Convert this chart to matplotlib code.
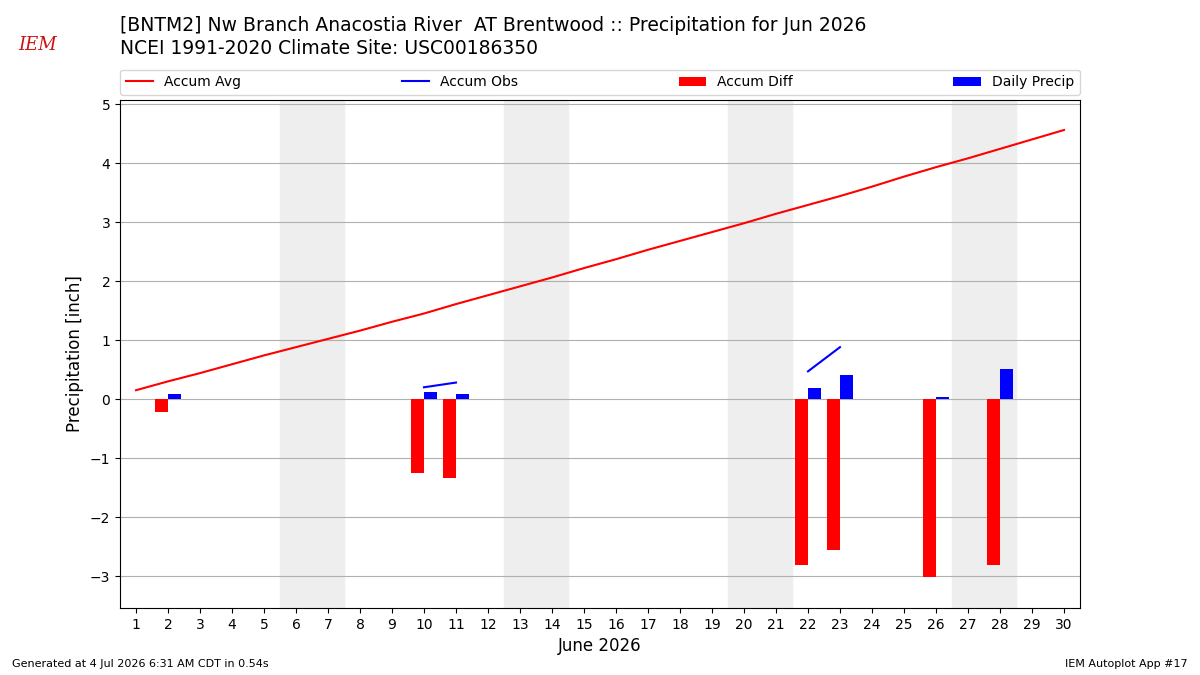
import numpy as np
import matplotlib
matplotlib.use("Agg")
import matplotlib.pyplot as plt

days = list(range(1, 31))
accum_avg = [0.15, 0.30, 0.44, 0.59, 0.74, 0.88, 1.02, 1.16, 1.31, 1.45,
             1.61, 1.76, 1.91, 2.06, 2.22, 2.37, 2.53, 2.68, 2.83, 2.98,
             3.14, 3.29, 3.44, 3.60, 3.77, 3.93, 4.08, 4.24, 4.40, 4.56]
obs_days = [2, 10, 11, 22, 23, 26, 28]
daily_precip = [0.08, 0.12, 0.08, 0.19, 0.41, 0.03, 0.51]
weekends = [(6, 7), (13, 14), (20, 21), (27, 28)]

# accumulated obs, only shown where the previous day also has data
accum_obs = np.full(30, np.nan)
total = 0.0
for d, p in zip(obs_days, daily_precip):
    total += p
    accum_obs[d - 1] = total
avg = np.array(accum_avg)
diff_vals = [accum_obs[d - 1] - avg[d - 1] for d in obs_days]

fig = plt.figure(figsize=(12, 6.75), dpi=100)
ax = fig.add_axes([0.1, 0.0993, 0.8, 0.7527])

for a, b in weekends:
    ax.axvspan(a - 0.5, b + 0.5, color="#eeeeee", zorder=0)

ax.plot(days, accum_avg, color="r", lw=1.5, label="Accum Avg", zorder=3)
ax.plot(days, accum_obs, color="b", lw=1.5, label="Accum Obs", zorder=3)
ax.bar(np.array(obs_days) - 0.2, diff_vals, width=0.4, color="r",
       label="Accum Diff", zorder=3)
ax.bar(np.array(obs_days) + 0.2, daily_precip, width=0.4, color="b",
       label="Daily Precip", zorder=3)

ax.set_xlim(0.5, 30.5)
ax.set_ylim(-3.54, 5.07)
ax.set_xticks(days)
ax.set_yticks(range(-3, 6))
ax.set_yticklabels([str(v).replace("-", "\u2212") for v in range(-3, 6)])
ax.grid(axis="y", color="#b0b0b0", lw=0.8, zorder=1)
ax.set_axisbelow(True)
ax.set_xlabel("June 2026", fontsize=12)
ax.set_ylabel("Precipitation [inch]", fontsize=12)

ax.legend(loc="lower left", bbox_to_anchor=(0, 1.01, 1, 0.05), ncol=4,
          mode="expand", borderaxespad=0, fontsize=10)

fig.text(0.1, 0.962, "[BNTM2] Nw Branch Anacostia River  AT Brentwood :: Precipitation for Jun 2026",
         fontsize=13.5, va="center")
fig.text(0.1, 0.928, "NCEI 1991-2020 Climate Site: USC00186350",
         fontsize=13.5, va="center")
fig.text(0.031, 0.933, "IEM", color="#d01010", fontsize=13, family="serif",
         style="italic", ha="center", va="center")

fig.text(0.01, 0.012, "Generated at 4 Jul 2026 6:31 AM CDT in 0.54s", fontsize=8)
fig.text(0.99, 0.012, "IEM Autoplot App #17", fontsize=8, ha="right")

fig.savefig("out.png")
